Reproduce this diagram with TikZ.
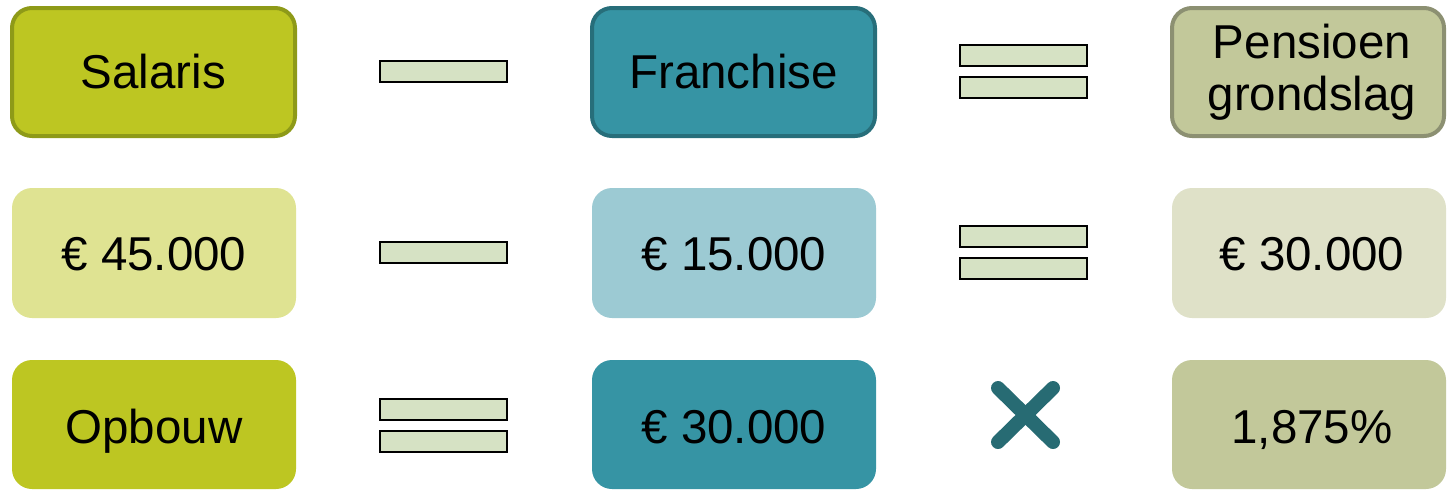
\documentclass[tikz,border=0pt]{standalone}
\usepackage{fontspec}
\setmainfont{Liberation Sans}
\definecolor{olive}{HTML}{BDC622}
\definecolor{oliveb}{HTML}{8E9A18}
\definecolor{teal}{HTML}{3694A4}
\definecolor{tealb}{HTML}{276E7A}
\definecolor{sage}{HTML}{C2C89A}
\definecolor{sageb}{HTML}{8C9072}
\definecolor{lolive}{HTML}{DFE392}
\definecolor{lteal}{HTML}{9CCAD3}
\definecolor{lsage}{HTML}{DFE1C8}
\definecolor{barfill}{HTML}{D6E2C4}
\definecolor{xcol}{HTML}{276B73}
\begin{document}
\begin{tikzpicture}[x=1pt,y=-1pt,
  box/.style={rounded corners=20pt},
  lbl/.style={font=\fontsize{47.5}{52}\selectfont, align=center, inner sep=0pt},
  bar/.style={fill=barfill, draw=black, line width=1.6pt}]
\useasboundingbox (0,0) rectangle (1447,490);
% row 1
\draw[box, fill=olive, draw=oliveb, line width=4pt] (12,8) rectangle (295,136);
\node[lbl, anchor=base] (salaris) at (153.5,88) {Salaris};
\draw[box, fill=teal, draw=tealb, line width=4pt] (592,8) rectangle (875,136);
\node[lbl, anchor=base] (franchise) at (733.5,88) {Franchise};
\draw[box, fill=sage, draw=sageb, line width=4pt] (1172,8) rectangle (1444,136);
\node[lbl] (pgl) at (1312,72) {Pensioen\\grondslag};
\draw[bar] (380,61) rectangle (507,82);
\draw[bar] (960,45) rectangle (1087,66);
\draw[bar] (960,77) rectangle (1087,98);
% row 2
\fill[box, lolive] (12,188) rectangle (296,318);
\node[lbl, anchor=base] (v1) at (154,270) {€ 45.000};
\fill[box, lteal] (592,188) rectangle (876,318);
\node[lbl, anchor=base] (v2) at (734,270) {€ 15.000};
\fill[box, lsage] (1172,188) rectangle (1446,318);
\node[lbl, anchor=base] (v3) at (1312,270) {€ 30.000};
\draw[bar] (380,242) rectangle (507,263);
\draw[bar] (960,226) rectangle (1087,247);
\draw[bar] (960,258) rectangle (1087,279);
% row 3
\fill[box, olive] (12,360) rectangle (296,489);
\node[lbl, anchor=base] (opb) at (154,443) {Opbouw};
\fill[box, teal] (592,360) rectangle (876,489);
\node[lbl, anchor=base] (v4) at (734,443) {€ 30.000};
\fill[box, sage] (1172,360) rectangle (1446,489);
\node[lbl, anchor=base] (pct) at (1312,443) {1,875\%};
\draw[bar] (380,399) rectangle (507,420);
\draw[bar] (380,431) rectangle (507,452);
\draw[xcol, line width=14pt, line cap=round] (998,388) -- (1053,442);
\draw[xcol, line width=14pt, line cap=round] (1053,388) -- (998,442);
\end{tikzpicture}
\end{document}
